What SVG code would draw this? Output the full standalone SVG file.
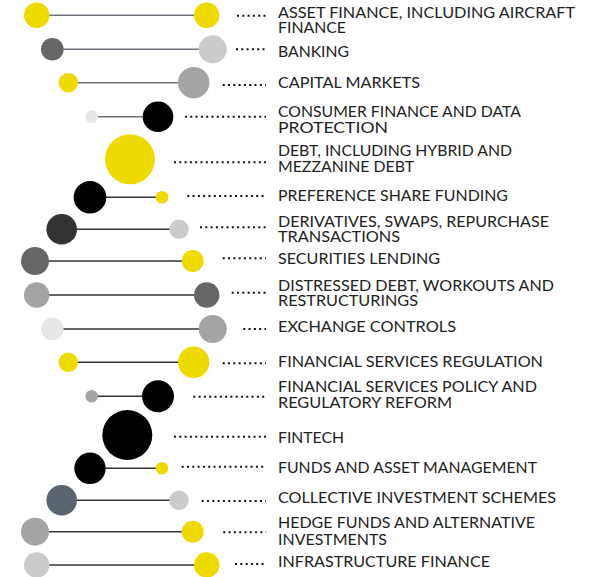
<svg xmlns="http://www.w3.org/2000/svg" width="589" height="577" viewBox="0 0 589 577">
<style>
.y{fill:#ecda00}.k{fill:#000}.d3{fill:#333}.d6{fill:#666}.g{fill:#a2a5a7}.lg{fill:#cbcbcb}.vl{fill:#e6e6e6}.sl{fill:#5a6470}
.bar{stroke:#333;stroke-width:1.6;fill:none}.bar1{stroke:#6b7079;stroke-width:1.6;fill:none}
.dot{stroke:#111;stroke-width:2;stroke-dasharray:2 3.3;fill:none}
text{font-family:Lato,"Liberation Sans",sans-serif;font-size:15px;fill:#222;}
</style>
<rect width="589" height="577" fill="#fff"/>
<g id="connectors">
<line class="bar1" x1="37" y1="15.3" x2="207" y2="15.3"/>
<line class="bar1" x1="52" y1="49.3" x2="213" y2="49.3"/>
<line class="bar1" x1="68" y1="82.7" x2="194" y2="82.7"/>
<line class="bar1" x1="92" y1="116.7" x2="158" y2="116.7"/>
<line class="bar" x1="90" y1="197.3" x2="162" y2="197.3"/>
<line class="bar" x1="62" y1="229.3" x2="179" y2="229.3"/>
<line class="bar" x1="35" y1="261" x2="193" y2="261"/>
<line class="bar" x1="37" y1="295" x2="207" y2="295"/>
<line class="bar" x1="52" y1="329" x2="213" y2="329"/>
<line class="bar" x1="68" y1="362.3" x2="194" y2="362.3"/>
<line class="bar" x1="92" y1="396.3" x2="158" y2="396.3"/>
<line class="bar" x1="90" y1="468.3" x2="162" y2="468.3"/>
<line class="bar" x1="62" y1="500.3" x2="179" y2="500.3"/>
<line class="bar" x1="35" y1="531.7" x2="193" y2="531.7"/>
<line class="bar" x1="37" y1="565" x2="207" y2="565"/>
<line class="dot" x1="237" y1="15.7" x2="266" y2="15.7"/>
<line class="dot" x1="236" y1="49.3" x2="266" y2="49.3"/>
<line class="dot" x1="222.7" y1="85" x2="266" y2="85"/>
<line class="dot" x1="185" y1="116.7" x2="266" y2="116.7"/>
<line class="dot" x1="174" y1="162.3" x2="266" y2="162.3"/>
<line class="dot" x1="187.3" y1="196" x2="266" y2="196"/>
<line class="dot" x1="200" y1="227.3" x2="266" y2="227.3"/>
<line class="dot" x1="222.7" y1="258.3" x2="266" y2="258.3"/>
<line class="dot" x1="231.7" y1="292.7" x2="266" y2="292.7"/>
<line class="dot" x1="243.3" y1="329" x2="266" y2="329"/>
<line class="dot" x1="222.7" y1="363.3" x2="266" y2="363.3"/>
<line class="dot" x1="193.3" y1="396.7" x2="266" y2="396.7"/>
<line class="dot" x1="174" y1="436.7" x2="266" y2="436.7"/>
<line class="dot" x1="181.7" y1="466.7" x2="266" y2="466.7"/>
<line class="dot" x1="201.7" y1="501" x2="266" y2="501"/>
<line class="dot" x1="223.3" y1="532.3" x2="266" y2="532.3"/>
<line class="dot" x1="235" y1="564" x2="266" y2="564"/>
</g>
<g id="n1"><circle class="y" cx="36.7" cy="15.3" r="12.7"/><circle class="y" cx="206.7" cy="15.3" r="12.7"/>
<text x="278" y="18.3" textLength="297" lengthAdjust="spacingAndGlyphs">ASSET FINANCE, INCLUDING AIRCRAFT</text><text x="278" y="33.3" textLength="68" lengthAdjust="spacingAndGlyphs">FINANCE</text></g>
<g id="n2"><circle class="d6" cx="52.3" cy="49.3" r="11.3"/><circle class="lg" cx="212.7" cy="49.3" r="14"/>
<text x="278" y="56.7" textLength="71" lengthAdjust="spacingAndGlyphs">BANKING</text></g>
<g id="n3"><circle class="y" cx="68.3" cy="82.7" r="9.7"/><circle class="g" cx="193.7" cy="82.7" r="15.7"/>
<text x="278" y="88.3" textLength="142" lengthAdjust="spacingAndGlyphs">CAPITAL MARKETS</text></g>
<g id="n4"><circle class="vl" cx="91.7" cy="116.7" r="6.3"/><circle class="k" cx="158" cy="116.7" r="15.3"/>
<text x="278" y="117.3" textLength="243" lengthAdjust="spacingAndGlyphs">CONSUMER FINANCE AND DATA</text><text x="278" y="133.3" textLength="110" lengthAdjust="spacingAndGlyphs">PROTECTION</text></g>
<g id="n5"><circle class="y" cx="130" cy="159.3" r="25"/>
<text x="278" y="155.7" textLength="234" lengthAdjust="spacingAndGlyphs">DEBT, INCLUDING HYBRID AND</text><text x="278" y="171.7" textLength="136" lengthAdjust="spacingAndGlyphs">MEZZANINE DEBT</text></g>
<g id="n6"><circle class="k" cx="90" cy="197.3" r="16.3"/><circle class="y" cx="162" cy="197.3" r="6.3"/>
<text x="278" y="200.7" textLength="230" lengthAdjust="spacingAndGlyphs">PREFERENCE SHARE FUNDING</text></g>
<g id="n7"><circle class="d3" cx="61.7" cy="229.3" r="15.3"/><circle class="lg" cx="179" cy="229.3" r="9.7"/>
<text x="278" y="227.3" textLength="271" lengthAdjust="spacingAndGlyphs">DERIVATIVES, SWAPS, REPURCHASE</text><text x="278" y="242.3" textLength="122" lengthAdjust="spacingAndGlyphs">TRANSACTIONS</text></g>
<g id="n8"><circle class="d6" cx="35" cy="261" r="14"/><circle class="y" cx="192.7" cy="261" r="11"/>
<text x="278" y="264" textLength="162" lengthAdjust="spacingAndGlyphs">SECURITIES LENDING</text></g>
<g id="n9"><circle class="g" cx="36.7" cy="295" r="12.7"/><circle class="d6" cx="206.7" cy="295" r="12.7"/>
<text x="278" y="290.7" textLength="276" lengthAdjust="spacingAndGlyphs">DISTRESSED DEBT, WORKOUTS AND</text><text x="278" y="306" textLength="140" lengthAdjust="spacingAndGlyphs">RESTRUCTURINGS</text></g>
<g id="n10"><circle class="vl" cx="52.3" cy="329" r="11.3"/><circle class="g" cx="212.7" cy="329" r="14"/>
<text x="278" y="331.7" textLength="178" lengthAdjust="spacingAndGlyphs">EXCHANGE CONTROLS</text></g>
<g id="n11"><circle class="y" cx="68.3" cy="362.3" r="9.7"/><circle class="y" cx="193.7" cy="362.3" r="15.7"/>
<text x="278" y="367.3" textLength="265" lengthAdjust="spacingAndGlyphs">FINANCIAL SERVICES REGULATION</text></g>
<g id="n12"><circle class="g" cx="91.7" cy="396.3" r="6.3"/><circle class="k" cx="158" cy="396.3" r="16"/>
<text x="278" y="392.3" textLength="259" lengthAdjust="spacingAndGlyphs">FINANCIAL SERVICES POLICY AND</text><text x="278" y="407.7" textLength="174" lengthAdjust="spacingAndGlyphs">REGULATORY REFORM</text></g>
<g id="n13"><circle class="k" cx="127.3" cy="435" r="25"/>
<text x="278" y="443.3" textLength="66" lengthAdjust="spacingAndGlyphs">FINTECH</text></g>
<g id="n14"><circle class="k" cx="90" cy="468.3" r="15.7"/><circle class="y" cx="162" cy="468.3" r="6.3"/>
<text x="278" y="473.3" textLength="259" lengthAdjust="spacingAndGlyphs">FUNDS AND ASSET MANAGEMENT</text></g>
<g id="n15"><circle class="sl" cx="61.7" cy="500.3" r="15.3"/><circle class="lg" cx="179" cy="500.3" r="9.7"/>
<text x="278" y="503.3" textLength="278" lengthAdjust="spacingAndGlyphs">COLLECTIVE INVESTMENT SCHEMES</text></g>
<g id="n16"><circle class="g" cx="35" cy="531.7" r="14"/><circle class="y" cx="192.7" cy="531.7" r="11"/>
<text x="278" y="528.3" textLength="257" lengthAdjust="spacingAndGlyphs">HEDGE FUNDS AND ALTERNATIVE</text><text x="278" y="545" textLength="109" lengthAdjust="spacingAndGlyphs">INVESTMENTS</text></g>
<g id="n17"><circle class="lg" cx="36.7" cy="565" r="12.7"/><circle class="y" cx="206.7" cy="565" r="12.7"/>
<text x="278" y="566.7" textLength="212" lengthAdjust="spacingAndGlyphs">INFRASTRUCTURE FINANCE</text></g>
</svg>
